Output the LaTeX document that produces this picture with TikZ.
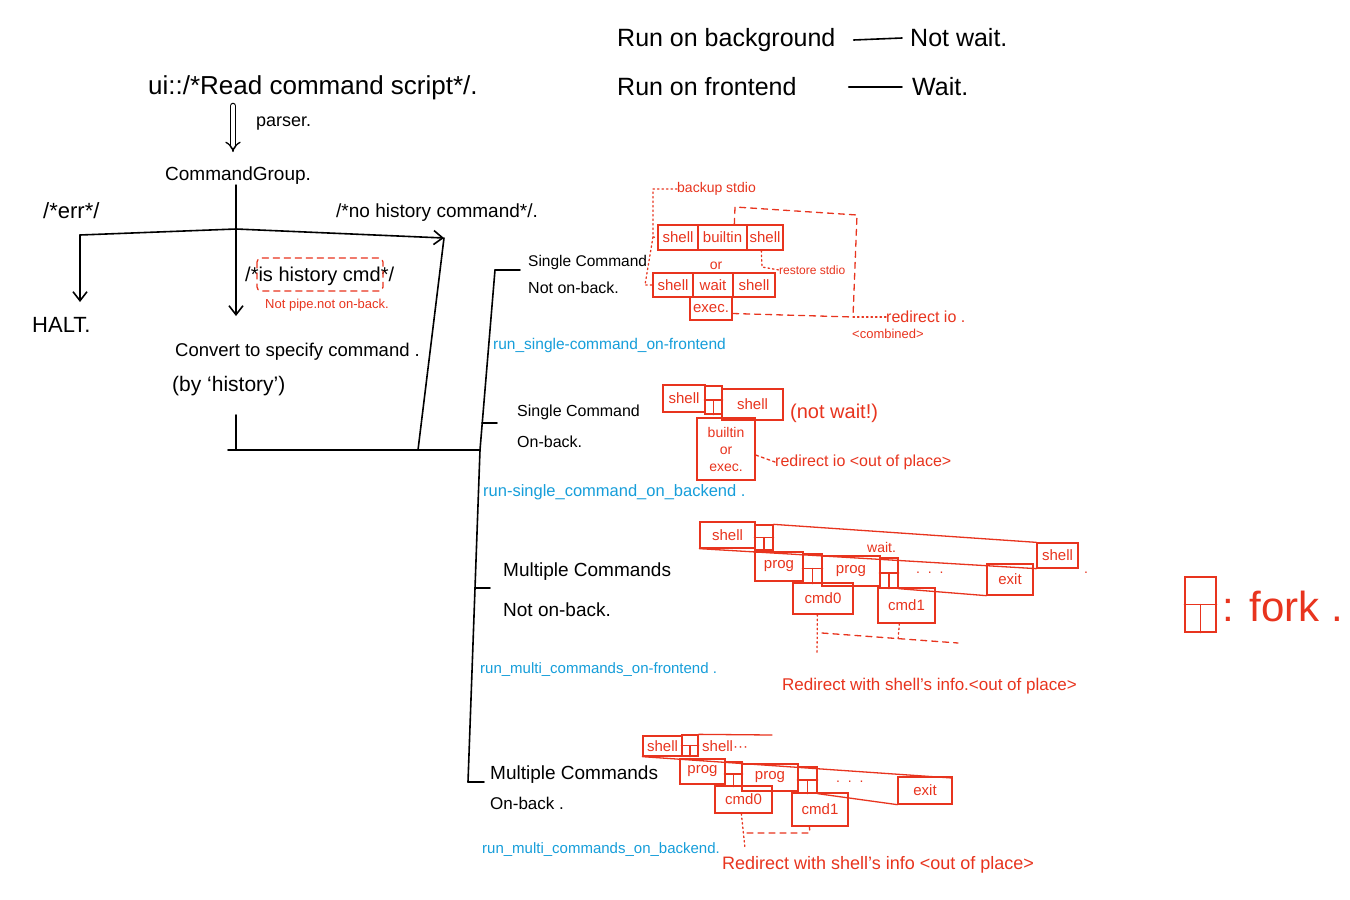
\documentclass[tikz,border=0pt]{standalone}
\usepackage{fontspec}
\setmainfont{Liberation Sans}
\usetikzlibrary{arrows.meta,calc}
\definecolor{hred}{RGB}{232,52,30}
\definecolor{hblue}{RGB}{22,158,218}
\newcommand\fs[1]{\fontsize{#1}{#1}\selectfont}
\newcommand\rbx[6]{\node[rbox,minimum width={(#4-#2)*1pt},minimum height={(#5-#3)*1pt}] (#1) at ({(#2+#4)/2},{(#3+#5)/2}) {#6};}
\newcommand\frk[5]{%
 \node[rbox,minimum width={(#4-#2)*1pt},minimum height={(#5-#3)*1pt}] (#1) at ({(#2+#4)/2},{(#3+#5)/2}) {};
 \draw[rl] ($(#1.north west)!0.5!(#1.south west)$) -- ($(#1.north east)!0.5!(#1.south east)$);
 \draw[rl] ($(#1.north)!0.5!(#1.south)$) -- (#1.south);}
\tikzset{
 tx/.style={inner sep=0pt, anchor=west, text=black},
 rt/.style={inner sep=0pt, anchor=west, text=hred},
 bt/.style={inner sep=0pt, anchor=west, text=hblue},
 rbox/.style={draw=hred, line width=1.3pt, inner sep=0pt, text=hred, font=\fs{15}},
 bl/.style={line width=1.6pt, black, line cap=round, line join=round},
 rl/.style={line width=1.3pt, hred, line cap=round, line join=round},
 rdash/.style={rl, dash pattern=on 6pt off 5pt},
 rdot/.style={rl, dash pattern=on 1.5pt off 3pt},
 harrow/.style={-{Straight Barb[length=9pt,width=14pt]}}
}
\begin{document}
\begin{tikzpicture}[x=1pt,y=-1pt]
\useasboundingbox (0,0) rectangle (1350,900);
\fill[white] (0,0) rectangle (1350,900);

% top legend
\node[tx,font=\fs{25}] (rbg) at (617,40) {Run on background};
\node[tx,font=\fs{25}] (nwt) at (910,38) {Not wait.};
\draw[bl] ([xshift=18pt]rbg.east) -- ([xshift=-8pt]nwt.west);
\node[tx,font=\fs{25}] (rfe) at (617,87) {Run on frontend};
\node[tx,font=\fs{25}] (wt) at (912,87) {Wait.};
\draw[bl] ([xshift=52pt]rfe.east) -- ([xshift=-10pt]wt.west);

% left part
\node[tx,font=\fs{26}] (ui) at (148,88) {ui::/*Read command script*/.};
\node[tx,font=\fs{18}] (ps) at (256,124) {parser.};
\node[tx,font=\fs{19}] (cg) at (165,176) {CommandGroup.};
\coordinate (pa) at (233,106);
\coordinate (pb) at (233,152);
\draw[bl, line width=1.3pt, double distance=4pt, -{Implies}] (pa) -- (pb);

\coordinate (jl) at (80,235);
\coordinate (jm) at (236,229);
\coordinate (jr) at (444,238);
\coordinate (bj) at (418,450);
\coordinate (hb) at (80,302);
\coordinate (ma) at (236,316);
\draw[bl] (jl) -- (jm);
\draw[bl, harrow] (jm) -- (jr);
\draw[bl] (jr) -- (bj);
\draw[bl, harrow] (jl) -- (hb);
\draw[bl, harrow] (cg.south -| jm) -- (ma);
\node[tx,font=\fs{22}] (err) at (43,211) {/*err*/};
\node[tx,font=\fs{22}] (halt) at (32,325) {HALT.};
\node[tx,font=\fs{19}] (nh) at (336,213) {/*no history command*/.};
\node[tx,font=\fs{20}] (ih) at (245,276) {/*is history cmd*/};
\draw[rdash, rounded corners=4pt] (257,258) rectangle (383,291);
\node[rt,font=\fs{13}] (np) at (265,305) {Not pipe.not on-back.};
\node[tx,font=\fs{18.5}] (cv) at (175,352) {Convert to specify command .};
\node[tx,font=\fs{21}] (bh) at (172,386) {(by ‘history’)};
\coordinate (bs) at (236,415);
\coordinate (bb) at (236,450);
\coordinate (ble) at (228,450);
\draw[bl] (bs) -- (bb);

% tree
\coordinate (t0) at (495,270);
\coordinate (t1) at (480,450);
\coordinate (t2) at (468,782);
\draw[bl] (ble) -- (t1);
\draw[bl] (t0) -- (t1) -- (t2);
\coordinate (k2) at (482,423);
\coordinate (k2e) at (497,423);
\coordinate (k3) at (475,588);
\coordinate (k3e) at (490,588);
\coordinate (k4e) at (484,782);

\node[tx,font=\fs{15.5}] (sc1) at (528,262) {Single Command};
\node[tx,font=\fs{16}] (sc1b) at (528,288) {Not on-back.};
\coordinate (k1e) at (520,270);
\draw[bl] (t0) -- (k1e);
\draw[bl] (k2) -- (k2e);
\draw[bl] (k3) -- (k3e);
\draw[bl] (t2) -- (k4e);
\node[bt,font=\fs{15.5}] (rs1) at (493,345) {run\_single-command\_on-frontend};
\node[tx,font=\fs{16}] (sc2) at (517,412) {Single Command};
\node[tx,font=\fs{16}] (sc2b) at (517,442) {On-back.};
\node[bt,font=\fs{16.5}] (rs2) at (483,492) {run-single\_command\_on\_backend .};
\node[tx,font=\fs{19}] (mc1) at (503,572) {Multiple Commands};
\node[tx,font=\fs{19}] (mc1b) at (503,610) {Not on-back.};
\node[bt,font=\fs{15}] (rm1) at (480,670) {run\_multi\_commands\_on-frontend .};
\node[tx,font=\fs{19}] (mc2) at (490,775) {Multiple Commands};
\node[tx,font=\fs{17}] (mc2b) at (490,803) {On-back .};
\node[bt,font=\fs{15}] (rm2) at (482,850) {run\_multi\_commands\_on\_backend.};
\node[rt,font=\fs{18}] (rd2) at (722,865) {Redirect with shell's info <out of place>};

% section 1
\rbx{s1a}{658}{225}{698}{250}{shell}
\rbx{s1b}{698}{225}{747}{250}{builtin}
\rbx{s1c}{747}{225}{783}{250}{shell}
\node[rt, anchor=center, font=\fs{14}] (or1) at (716,266) {or};
\rbx{s2a}{653}{273}{693}{297}{shell}
\rbx{s2b}{693}{273}{733}{297}{wait}
\rbx{s2c}{733}{273}{775}{297}{shell}
\rbx{s2d}{690}{297}{732}{320}{exec.}
\node[rt,font=\fs{14}] (bk) at (677,189) {backup stdio};
\coordinate (d1) at (653,189);
\coordinate (d2) at (653,237);
\coordinate (d3) at (645,285);
\draw[rdot] (bk.west) -- (d1) -- (d2) -- (s1a.west);
\draw[rdot] (d2) -- (d3) -- (s2a.west);
\coordinate (e1) at (735,207);
\coordinate (e2) at (857,215);
\coordinate (e3) at (853,317);
\draw[rdash] ([xshift=-12pt]s1c.north west) -- (e1) -- (e2) -- (e3);
\draw[rdash] ([yshift=-5pt]s2d.east) -- (e3);
\node[rt,font=\fs{16}] (rio) at (886,317) {redirect io .};
\draw[rdot] (e3) -- (rio.west);
\node[rt,font=\fs{13}] (cmb) at (852,334) {<combined>};
\coordinate (r1) at (762,267);
\node[rt,font=\fs{12}] (rst) at (779,270) {restore stdio};
\draw[rdot] ([xshift=15pt]s1c.south west) -- (r1) -- (rst.west);

% section 2
\rbx{b1}{663}{385}{705}{412}{shell}
\frk{f1}{705}{386}{722}{414}
\rbx{b2}{722}{389}{783}{420}{shell}
\node[rbox, minimum width=58pt, minimum height=62pt, align=center, font=\fontsize{14}{17}\selectfont] (b3) at (726,449) {builtin\\or\\exec.};
\node[rt,font=\fs{20}] (nw) at (790,413) {(not wait!)};
\node[rt,font=\fs{16}] (ri2) at (775,462) {redirect io <out of place>};
\draw[rl, dash pattern=on 3pt off 3pt] ([yshift=-6pt]b3.east) -- (ri2.west);

% section 3
\rbx{m1}{700}{522}{755}{548}{shell}
\frk{mf1}{755}{525}{773}{550}
\rbx{m1r}{1037}{543}{1078}{568}{shell}
\draw[rl] (mf1.north east) -- (m1r.north west);
\draw[rl] (m1.south west) -- (m1r.south west);
\node[rt,font=\fs{14}] (wt3) at (867,547) {wait.};
\node[rt,font=\fs{14}] (dt3) at (1084,573) {.};
\rbx{p1}{755}{552}{803}{581}{prog}
\frk{pf1}{803}{554}{822}{583}
\rbx{p2}{822}{556}{880}{586}{prog}
\frk{pf2}{880}{558}{898}{588}
\rbx{px}{987}{564}{1033}{595}{exit}
\draw[rl] (pf2.south east) -- (px.south west);
\node[rt,font=\fs{14}] (dd3) at (916,573) {.\ \ .\ \ .};
\rbx{c0}{793}{583}{853}{614}{cmd0}
\rbx{c1}{878}{588}{935}{623}{cmd1}
\coordinate (g1) at (817,655);
\coordinate (g2) at (822,633);
\coordinate (g3) at (958,643);
\coordinate (g4) at (898,640);
\draw[rdot] ([xshift=25pt]c0.south west) -- (g1);
\draw[rdash] (g2) -- (g3);
\draw[rdot] ([xshift=22pt]c1.south west) -- (g4);
\node[rt,font=\fs{17}] (rd1) at (782,686) {Redirect with shell's info.<out of place>};

% section 4
\rbx{n1}{643}{736}{682}{756}{shell}
\frk{nf1}{682}{735}{698}{756}
\coordinate (nb) at (772,735);
\draw[rl] (nf1.north east) -- (nb);
\node[rt,font=\fs{15}] (ns) at (702,746) {shell···};
\coordinate (nbr) at (952,778);
\draw[rl] (n1.south west) -- (nbr);
\rbx{q1}{680}{759}{725}{784}{prog}
\frk{qf1}{725}{762}{742}{786}
\rbx{q2}{742}{764}{798}{791}{prog}
\frk{qf2}{798}{767}{817}{793}
\rbx{qx}{898}{777}{952}{804}{exit}
\draw[rl] (qf2.south east) -- (qx.south west);
\node[rt,font=\fs{14}] (qd) at (836,782) {.\ \ .\ \ .};
\rbx{r0}{715}{786}{772}{813}{cmd0}
\rbx{r1}{792}{793}{848}{826}{cmd1}
\coordinate (h1) at (745,848);
\coordinate (h2) at (747,833);
\coordinate (h3) at (810,833);
\draw[rdot] ([xshift=27pt]r0.south west) -- (h1);
\draw[rdash] (h2) -- (h3) -- ([xshift=18pt]r1.south west);

% fork legend
\frk{lf}{1185}{577}{1216}{632}
\node[rt,font=\fs{42}] (lfk) at (1222,606) {: fork .};
\end{tikzpicture}
\end{document}
